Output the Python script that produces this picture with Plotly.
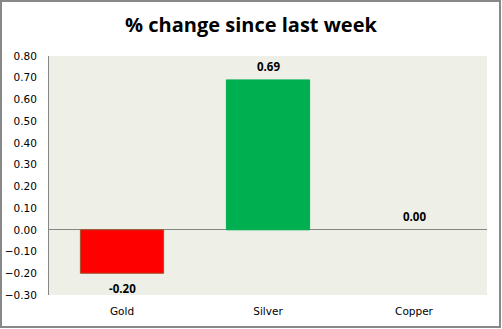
import plotly.graph_objects as go

categories = ["Gold", "Silver", "Copper"]
values = [-0.20, 0.69, 0.00]
bar_colors = ["#FF0000", "#00B050", "#00B050"]
border_colors = ["#A0522D", "#00B050", "rgba(0,0,0,0)"]
tick_vals = [-0.3, -0.2, -0.1, 0.0, 0.1, 0.2, 0.3, 0.4, 0.5, 0.6, 0.7, 0.8]

fig = go.Figure()
fig.add_trace(go.Bar(
    x=categories, y=values,
    marker=dict(color=bar_colors, line=dict(color=border_colors, width=1)),
    width=0.57,
))

for c, v in zip(categories, values):
    fig.add_annotation(x=c, y=v, text=f"<b>{v:.2f}</b>", showarrow=False,
                       yshift=(-15 if v < 0 else 13), yanchor="middle",
                       font=dict(family="Open Sans", size=11.5, color="#000000"))

L, R, T, B = 49, 15, 56, 34
W, H = 502, 329
pw, ph = W - L - R, H - T - B

fig.update_layout(
    width=W, height=H,
    margin=dict(l=L, r=R, t=T, b=B, autoexpand=False),
    paper_bgcolor="#FFFFFF",
    plot_bgcolor="#EEF0E8",
    showlegend=False,
    title=dict(text="<b>% change since last week</b>", x=0.5, xanchor="center",
               y=1 - 25 / H, yanchor="middle",
               font=dict(family="Open Sans", size=20, color="#000000")),
    xaxis=dict(showgrid=False, showline=False, ticks="outside", ticklen=6,
               tickcolor="rgba(0,0,0,0)", automargin=False,
               tickfont=dict(family="DejaVu Sans", size=10.5, color="#000000")),
    yaxis=dict(range=[-0.3, 0.8], tickvals=tick_vals, tickformat=".2f",
               showgrid=False, zeroline=True, zerolinecolor="#868686", zerolinewidth=1,
               showline=True, linecolor="#868686", linewidth=1, automargin=False,
               ticks="outside", ticklen=9, tickcolor="rgba(0,0,0,0)",
               tickfont=dict(family="DejaVu Sans", size=10.5, color="#000000")),
    shapes=[dict(type="rect", xref="paper", yref="paper",
                 x0=(1 - L) / pw, x1=(W - 2 - L) / pw,
                 y0=(ph + T - (H - 2)) / ph, y1=(ph + T - 1) / ph,
                 line=dict(color="#888888", width=2), fillcolor="rgba(0,0,0,0)")],
)

fig.write_html("out.html")
